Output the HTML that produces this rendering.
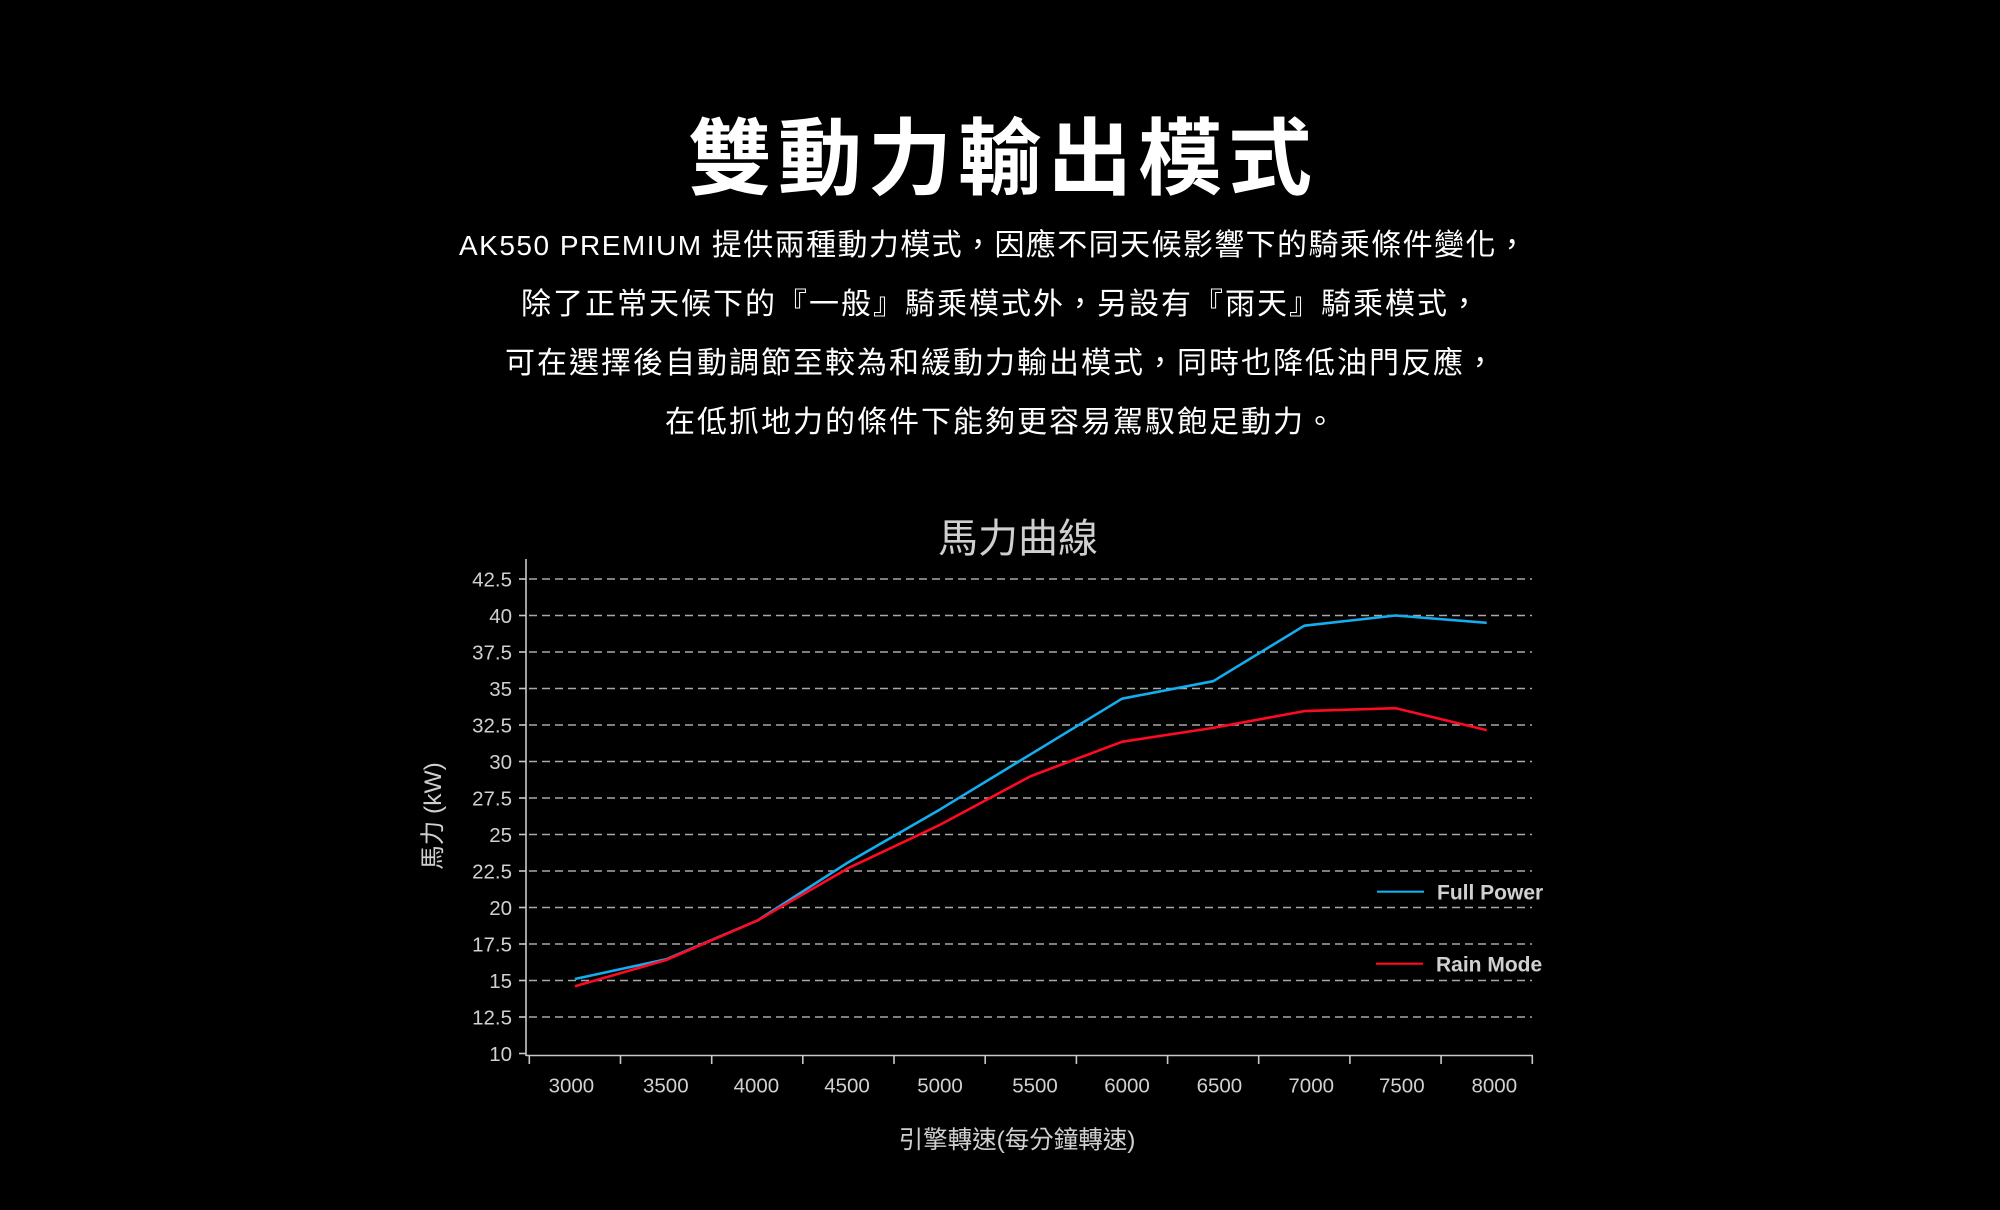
<!DOCTYPE html>
<html>
<head>
<meta charset="utf-8">
<style>
  html, body { margin:0; padding:0; background:#000; }
  body { width:2000px; height:1210px; overflow:hidden; }
  svg { display:block; }
</style>
</head>
<body>
<svg width="2000" height="1210" viewBox="0 0 2000 1210" xmlns="http://www.w3.org/2000/svg">
  <rect x="0" y="0" width="2000" height="1210" fill="#000"/>

  <!-- Main title -->
  <text x="1003" y="188" text-anchor="middle" fill="#fff" font-family="'Liberation Sans','Noto Sans CJK TC',sans-serif" font-weight="700" font-size="84" letter-spacing="6">雙動力輸出模式</text>

  <!-- Subtitle lines -->
  <g fill="#fff" font-family="'Liberation Sans','Noto Sans CJK TC',sans-serif" font-size="30">
    <text x="459" y="255" text-anchor="start"><tspan font-size="28" letter-spacing="1.5">AK550 PREMIUM </tspan><tspan letter-spacing="1.4">提供兩種動力模式，因應不同天候影響下的騎乘條件變化，</tspan></text>
    <text x="1001" y="314" text-anchor="middle" letter-spacing="2">除了正常天候下的『一般』騎乘模式外，另設有『雨天』騎乘模式，</text>
    <text x="1001" y="373" text-anchor="middle" letter-spacing="2">可在選擇後自動調節至較為和緩動力輸出模式，同時也降低油門反應，</text>
    <text x="1001" y="432" text-anchor="middle" letter-spacing="2">在低抓地力的條件下能夠更容易駕馭飽足動力。</text>
  </g>

  <!-- Chart title -->
  <text x="1018" y="552" text-anchor="middle" fill="#cfcfcf" font-family="'Liberation Sans','Noto Sans CJK TC',sans-serif" font-size="40">馬力曲線</text>

  <!-- Grid lines (12.5 .. 42.5) -->
  <g stroke="#a8a8a8" stroke-width="1.5" stroke-dasharray="8 5">
    <line x1="529" y1="579" x2="1532" y2="579"/>
    <line x1="529" y1="615.5" x2="1532" y2="615.5"/>
    <line x1="529" y1="652" x2="1532" y2="652"/>
    <line x1="529" y1="688.5" x2="1532" y2="688.5"/>
    <line x1="529" y1="725" x2="1532" y2="725"/>
    <line x1="529" y1="761.5" x2="1532" y2="761.5"/>
    <line x1="529" y1="798" x2="1532" y2="798"/>
    <line x1="529" y1="834.5" x2="1532" y2="834.5"/>
    <line x1="529" y1="871" x2="1532" y2="871"/>
    <line x1="529" y1="907.5" x2="1532" y2="907.5"/>
    <line x1="529" y1="944" x2="1532" y2="944"/>
    <line x1="529" y1="980.5" x2="1532" y2="980.5"/>
    <line x1="529" y1="1017" x2="1532" y2="1017"/>
  </g>

  <!-- Axes -->
  <g stroke="#c8c8c8" stroke-width="1.6" fill="none">
    <line x1="526" y1="559" x2="526" y2="1056"/>
    <line x1="526" y1="1055.5" x2="1533" y2="1055.5"/>
    <line x1="519" y1="579" x2="526" y2="579"/>
    <line x1="519" y1="615.5" x2="526" y2="615.5"/>
    <line x1="519" y1="652" x2="526" y2="652"/>
    <line x1="519" y1="688.5" x2="526" y2="688.5"/>
    <line x1="519" y1="725" x2="526" y2="725"/>
    <line x1="519" y1="761.5" x2="526" y2="761.5"/>
    <line x1="519" y1="798" x2="526" y2="798"/>
    <line x1="519" y1="834.5" x2="526" y2="834.5"/>
    <line x1="519" y1="871" x2="526" y2="871"/>
    <line x1="519" y1="907.5" x2="526" y2="907.5"/>
    <line x1="519" y1="944" x2="526" y2="944"/>
    <line x1="519" y1="980.5" x2="526" y2="980.5"/>
    <line x1="519" y1="1017" x2="526" y2="1017"/>
    <line x1="519" y1="1053.5" x2="526" y2="1053.5"/>
    <line x1="529.3" y1="1055.5" x2="529.3" y2="1064"/>
    <line x1="620.5" y1="1055.5" x2="620.5" y2="1064"/>
    <line x1="711.7" y1="1055.5" x2="711.7" y2="1064"/>
    <line x1="802.8" y1="1055.5" x2="802.8" y2="1064"/>
    <line x1="894" y1="1055.5" x2="894" y2="1064"/>
    <line x1="985.2" y1="1055.5" x2="985.2" y2="1064"/>
    <line x1="1076.4" y1="1055.5" x2="1076.4" y2="1064"/>
    <line x1="1167.6" y1="1055.5" x2="1167.6" y2="1064"/>
    <line x1="1258.7" y1="1055.5" x2="1258.7" y2="1064"/>
    <line x1="1349.9" y1="1055.5" x2="1349.9" y2="1064"/>
    <line x1="1441.1" y1="1055.5" x2="1441.1" y2="1064"/>
    <line x1="1532.3" y1="1055.5" x2="1532.3" y2="1064"/>
  </g>

  <!-- Y tick labels -->
  <g fill="#d0d0d0" font-family="'Liberation Sans',sans-serif" font-size="20.5" text-anchor="end">
    <text x="512" y="586.3">42.5</text>
    <text x="512" y="622.8">40</text>
    <text x="512" y="659.3">37.5</text>
    <text x="512" y="695.8">35</text>
    <text x="512" y="732.3">32.5</text>
    <text x="512" y="768.8">30</text>
    <text x="512" y="805.3">27.5</text>
    <text x="512" y="841.8">25</text>
    <text x="512" y="878.3">22.5</text>
    <text x="512" y="914.8">20</text>
    <text x="512" y="951.3">17.5</text>
    <text x="512" y="987.8">15</text>
    <text x="512" y="1024.3">12.5</text>
    <text x="512" y="1060.8">10</text>
  </g>

  <!-- X tick labels -->
  <g fill="#d0d0d0" font-family="'Liberation Sans',sans-serif" font-size="20.5" text-anchor="middle">
    <text x="571.4" y="1092.5">3000</text>
    <text x="665.8" y="1092.5">3500</text>
    <text x="756.4" y="1092.5">4000</text>
    <text x="847" y="1092.5">4500</text>
    <text x="940" y="1092.5">5000</text>
    <text x="1035" y="1092.5">5500</text>
    <text x="1127" y="1092.5">6000</text>
    <text x="1219.4" y="1092.5">6500</text>
    <text x="1311.2" y="1092.5">7000</text>
    <text x="1401.8" y="1092.5">7500</text>
    <text x="1494.3" y="1092.5">8000</text>
  </g>

  <!-- Axis titles -->
  <text transform="translate(432,816) rotate(-90)" x="0" y="9" text-anchor="middle" fill="#cfcfcf" font-family="'Liberation Sans','Noto Sans CJK TC',sans-serif" font-size="24.5">馬力 (kW)</text>
  <text x="1017" y="1148" text-anchor="middle" fill="#cfcfcf" font-family="'Liberation Sans','Noto Sans CJK TC',sans-serif" font-size="24.5">引擎轉速(每分鐘轉速)</text>

  <!-- Series: Full Power (blue) -->
  <polyline fill="none" stroke="#14aef0" stroke-width="2.6" stroke-linejoin="round"
    points="574.9,979 666.1,959.3 757.3,920.6 848.4,862.2 939.6,809.7 1030.8,754.2 1122,698.7 1213.2,681.2 1304.3,625.7 1395.5,615.5 1486.7,622.8"/>

  <!-- Series: Rain Mode (red) -->
  <polyline fill="none" stroke="#ff0a22" stroke-width="2.6" stroke-linejoin="round"
    points="574.9,986.3 666.1,960 757.3,920.6 848.4,868.1 939.6,825 1030.8,776.1 1122,741.8 1213.2,727.9 1304.3,711.1 1395.5,708.2 1486.7,730.1"/>

  <!-- Legend -->
  <line x1="1377" y1="891.7" x2="1424" y2="891.7" stroke="#14aef0" stroke-width="2.2"/>
  <text x="1437" y="899.5" fill="#d0d0d0" font-family="'Liberation Sans',sans-serif" font-weight="700" font-size="21">Full Power</text>
  <line x1="1376" y1="963.7" x2="1423" y2="963.7" stroke="#ff0a22" stroke-width="2.2"/>
  <text x="1436" y="971.3" fill="#d0d0d0" font-family="'Liberation Sans',sans-serif" font-weight="700" font-size="21">Rain Mode</text>
</svg>
</body>
</html>
